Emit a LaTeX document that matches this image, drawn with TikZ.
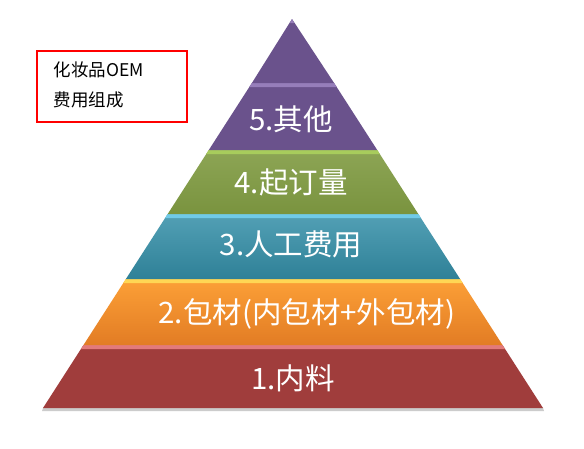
\documentclass[tikz,border=0pt]{standalone}
\usepackage{fontspec}
\newfontfamily\cjk{Noto Sans CJK SC}
\usepackage{tikz}
\definecolor{layerpurple}{RGB}{106,82,140}
\definecolor{bevelpurple}{RGB}{150,126,186}
\definecolor{layergreen}{RGB}{128,155,66}
\definecolor{bevelgreen}{RGB}{168,204,92}
\definecolor{layerblue}{RGB}{52,143,168}
\definecolor{bevelblue}{RGB}{112,202,232}
\definecolor{orangetop}{RGB}{252,160,55}
\definecolor{orangebot}{RGB}{226,124,36}
\definecolor{bevelorange}{RGB}{255,214,84}
\definecolor{layerred}{RGB}{160,61,60}
\definecolor{bevelred}{RGB}{226,122,122}
\tikzset{
  levellabel/.style={text=white, font=\cjk\fontsize{29.5}{29.5}\selectfont},
  notetext/.style={anchor=west, text=black, font=\cjk\fontsize{17.5}{17.5}\selectfont}
}

\begin{document}
\begin{tikzpicture}[x=1pt, y=-1pt]
    \useasboundingbox[fill=white] (0,0) rectangle (584,448);
    % shadow under the base
    \fill[black!20] (43,408) -- (543,408) -- (544,411) -- (42,411) -- cycle;
    % 1 red
    \fill[layerred] (83.5,345) -- (502.5,345) -- (543,408) -- (43,408) -- cycle;
    \fill[bevelred] (83.5,345) -- (502.5,345) -- (505,349) -- (81,349) -- cycle;
    % 2 orange
    \shade[top color=orangetop, bottom color=orangebot] (125.9,279) -- (460.1,279) -- (502.5,345) -- (83.5,345) -- cycle;
    \fill[bevelorange] (125.9,279) -- (460.1,279) -- (462.7,283) -- (123.3,283) -- cycle;
    % 3 blue
    \shade[top color=layerblue!85!white, bottom color=layerblue!90!black] (167.7,214) -- (418.3,214) -- (460.1,279) -- (125.9,279) -- cycle;
    \fill[bevelblue] (167.7,214) -- (418.3,214) -- (420.9,218) -- (165.1,218) -- cycle;
    % 4 green
    \shade[top color=layergreen!90!white, bottom color=layergreen!95!black] (208.8,150) -- (377.2,150) -- (418.3,214) -- (167.7,214) -- cycle;
    \fill[bevelgreen] (208.8,150) -- (377.2,150) -- (379.8,154) -- (206.2,154) -- cycle;
    % 5 purple
    \fill[layerpurple] (251.9,83) -- (334.1,83) -- (377.2,150) -- (208.8,150) -- cycle;
    \fill[bevelpurple] (251.9,83) -- (334.1,83) -- (336.7,87) -- (249.3,87) -- cycle;
    % top
    \fill[layerpurple] (292,19) -- (334.1,83) -- (251.9,83) -- cycle;
    \fill[bevelpurple] (292,19) -- (294,23) -- (290,23) -- cycle;

    \node[levellabel] (other) at (291,119) {5.其他};
    \node[levellabel] (moq) at (291,182) {4.起订量};
    \node[levellabel] (labour) at (291,244) {3.人工费用};
    \node[levellabel] (pack) at (307,314) {2.包材(内包材+外包材)};
    \node[levellabel] (raw) at (293,378) {1.内料};

    % note box
    \draw[red, line width=1.5pt] (37,51) rectangle (187,122);
    \node[notetext] (title) at (50,70) {化妆品OEM};
    \node[notetext] (sub) at (50,100) {费用组成};
\end{tikzpicture}
\end{document}
